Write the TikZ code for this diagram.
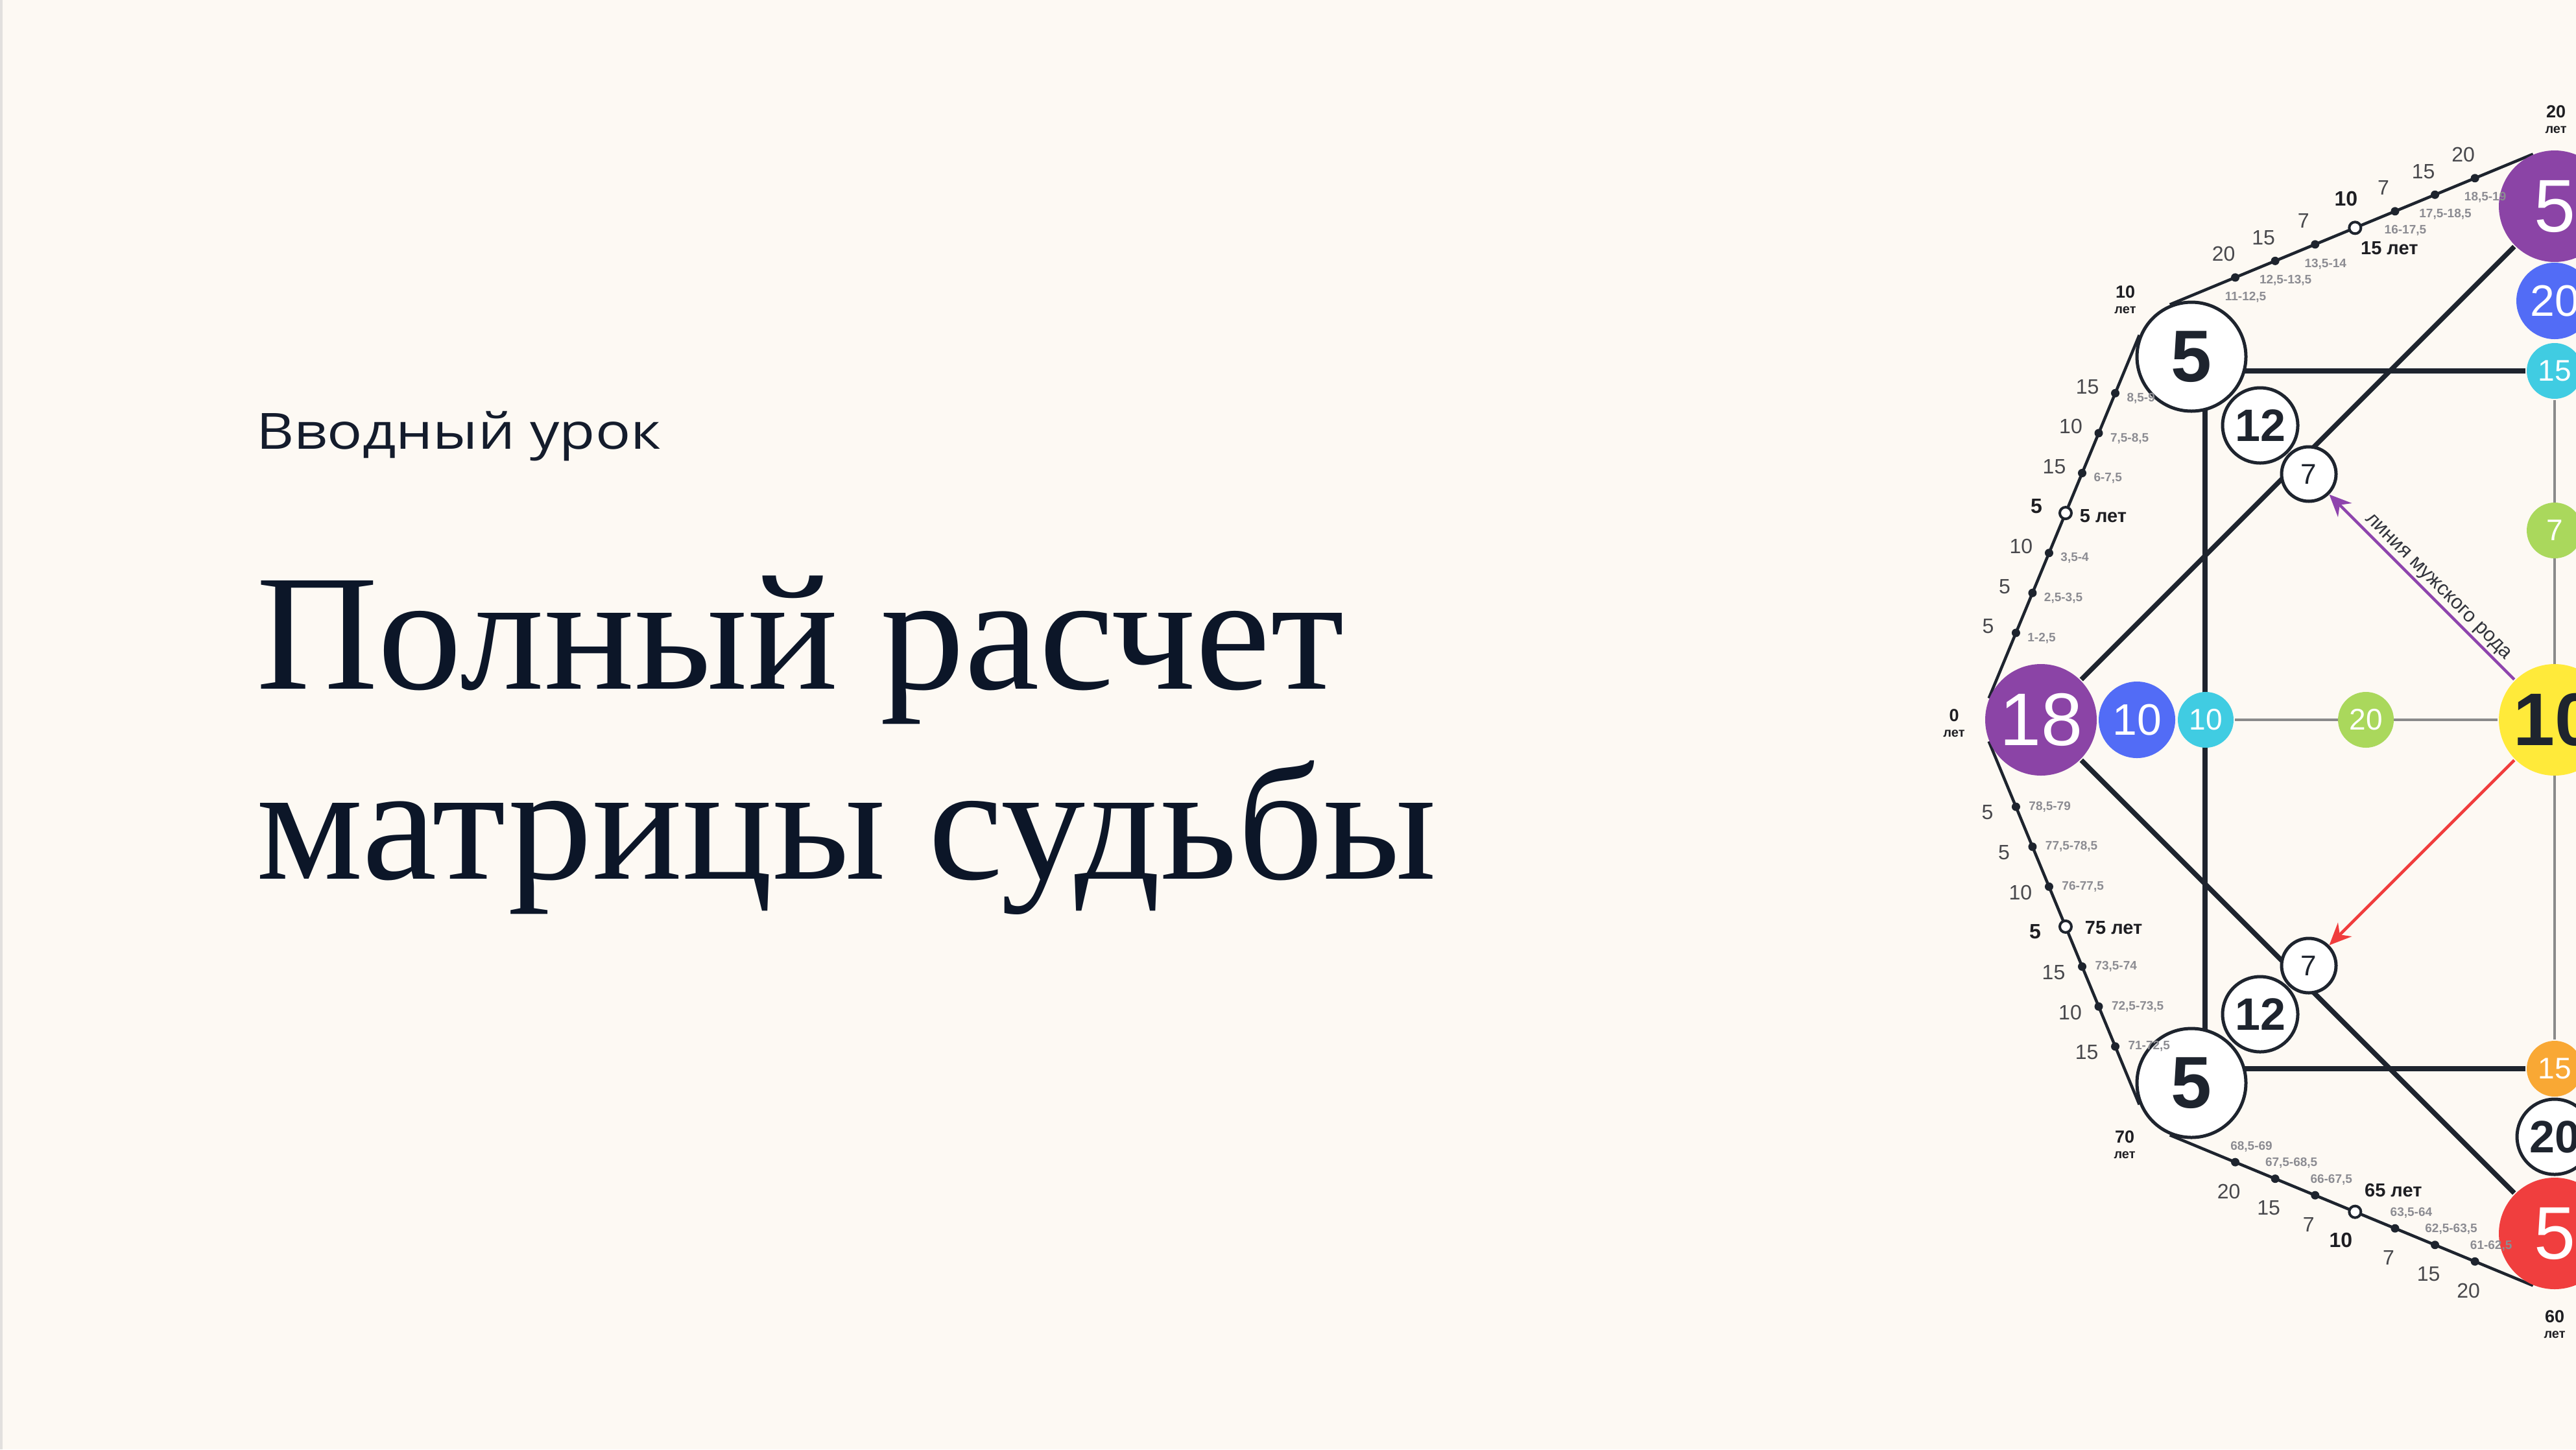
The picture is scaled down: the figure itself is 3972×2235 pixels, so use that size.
\documentclass[tikz,border=0pt]{standalone}
\usepackage{fontspec}
\setmainfont{Liberation Sans}
\newfontfamily\titlefont[FakeStretch=1.02]{Liberation Serif}
\newfontfamily\leadfont[FakeStretch=1.17]{Open Sans}
\usetikzlibrary{arrows.meta}
\usetikzlibrary{calc}
\usetikzlibrary{positioning}

\pgfdeclarelayer{paper}
\pgfdeclarelayer{bg}
\pgfsetlayers{paper,bg,main}

\tikzset{
  paper/.style={fill={rgb, 255:red, 253; green, 249; blue, 243 }},
  disc/.style={circle, inner sep=0pt, text=white},
  bigdisc/.style={disc, minimum size=17.2pt, font=\fontsize{11.5}{11.5}\selectfont},
  middisc/.style={disc, minimum size=11.8pt, font=\fontsize{6.8}{6.8}\selectfont},
  smalldisc/.style={disc, minimum size=8.6pt, font=\fontsize{4.6}{4.6}\selectfont},
  ring/.style={circle, inner sep=0pt, fill=white, line width=0.5pt, draw={rgb, 255:red, 30; green, 36; blue, 46 }, text={rgb, 255:red, 30; green, 36; blue, 46 }},
  bigring/.style={ring, minimum size=16.8pt, font=\fontsize{11.3}{11.3}\selectfont\bfseries},
  midring/.style={ring, minimum size=11.6pt, font=\fontsize{7}{7}\selectfont\bfseries},
  smallring/.style={ring, minimum size=8.4pt, font=\fontsize{4.4}{4.4}\selectfont},
  frame/.style={line width=0.75pt, draw={rgb, 255:red, 30; green, 36; blue, 46 }},
  guide/.style={line width=0.4pt, draw={rgb, 255:red, 138; green, 138; blue, 138 }},
  ageline/.style={line width=0.45pt, draw={rgb, 255:red, 30; green, 36; blue, 46 }},
  agedot/.style={circle, inner sep=0pt, minimum size=1.3pt, fill={rgb, 255:red, 30; green, 36; blue, 46 }},
  agering/.style={circle, inner sep=0pt, minimum size=1.8pt, line width=0.4pt, fill=white, draw={rgb, 255:red, 30; green, 36; blue, 46 }},
  agenum/.style={inner sep=0pt, font=\fontsize{3.2}{3.2}\selectfont, text={rgb, 255:red, 72; green, 72; blue, 76 }},
  agebold/.style={inner sep=0pt, font=\fontsize{3.2}{3.2}\selectfont\bfseries, text={rgb, 255:red, 30; green, 30; blue, 34 }},
  agerange/.style={inner sep=0pt, font=\fontsize{1.9}{1.9}\selectfont\bfseries, text={rgb, 255:red, 140; green, 140; blue, 146 }},
  ageyears/.style={inner sep=0pt, font=\fontsize{2.9}{2.9}\selectfont\bfseries, text={rgb, 255:red, 30; green, 30; blue, 34 }},
  cornernum/.style={inner sep=0pt, font=\fontsize{2.7}{2.7}\selectfont\bfseries, text={rgb, 255:red, 30; green, 30; blue, 34 }},
  cornerword/.style={inner sep=0pt, font=\fontsize{2}{2}\selectfont\bfseries, text={rgb, 255:red, 30; green, 30; blue, 34 }},
}

\begin{document}
\begin{tikzpicture}[x=0.1pt,y=0.1pt,yscale=-1,xscale=1]
\useasboundingbox (0,0) rectangle (3972,2235);

%Shape: Rectangle [background]
\begin{pgfonlayer}{paper}
\fill[paper] (0,0) rectangle (3972,2235);
\fill[fill={rgb, 255:red, 226; green, 224; blue, 222 }] (0,0) rectangle (4,2235);
\end{pgfonlayer}

% Text Node
\node[anchor=base west, inner sep=0pt, font=\leadfont\fontsize{7.7}{9}\selectfont, text={rgb, 255:red, 20; green, 28; blue, 44 }] (lead) at (393,692) {Вводный урок};
% Text Node
\node[anchor=base west, inner sep=0pt, font=\titlefont\fontsize{25.5}{29}\selectfont, text={rgb, 255:red, 12; green, 22; blue, 40 }] (title1) at (393,1062) {Полный расчет};
% Text Node
\node[anchor=base west, inner sep=0pt, font=\titlefont\fontsize{25.5}{29}\selectfont, text={rgb, 255:red, 12; green, 22; blue, 40 }] (title2) at (393,1355) {матрицы судьбы};

%Shape: Circle [outer points]
\node[bigdisc, fill={rgb, 255:red, 139; green, 68; blue, 166 }] (V18) at (3147,1110) {18};
\node[bigring] (NW5) at (3379,550) {5};
\node[bigdisc, fill={rgb, 255:red, 139; green, 68; blue, 166 }] (P5) at (3939,318) {5};
\node[bigring] (SW5) at (3379,1670) {5};
\node[bigdisc, fill={rgb, 255:red, 240; green, 62; blue, 62 }] (R5) at (3939,1902) {5};
\node[bigdisc, fill={rgb, 255:red, 255; green, 234; blue, 58 }, text={rgb, 255:red, 30; green, 36; blue, 46 }, font=\fontsize{11.5}{11.5}\selectfont\bfseries] (Y10) at (3939,1110) {10};

%Shape: Circle [middle row]
\node[middisc, fill={rgb, 255:red, 82; green, 108; blue, 246 }] (B10) at (3295,1110) {10};
\node[smalldisc, fill={rgb, 255:red, 64; green, 204; blue, 226 }] (C10) at (3401,1110) {10};
\node[smalldisc, fill={rgb, 255:red, 170; green, 216; blue, 92 }] (G20) at (3648,1110) {20};

%Shape: Circle [middle column]
\node[middisc, fill={rgb, 255:red, 82; green, 108; blue, 246 }] (B20) at (3939,464) {20};
\node[smalldisc, fill={rgb, 255:red, 64; green, 204; blue, 226 }] (C15) at (3939,572) {15};
\node[smalldisc, fill={rgb, 255:red, 170; green, 216; blue, 92 }] (G7) at (3939,818) {7};
\node[smalldisc, fill={rgb, 255:red, 249; green, 168; blue, 52 }] (O15) at (3939,1648) {15};
\node[midring] (W20) at (3939,1753) {20};

%Shape: Circle [diagonals]
\node[midring] (T12) at (3485,656) {12};
\node[smallring] (T7) at (3560,731) {7};
\node[midring] (B12) at (3485,1564) {12};
\node[smallring] (B7) at (3560,1489) {7};

\coordinate (sqNW) at (3400,572);
\coordinate (sqSW) at (3400,1648);

% age line end points
\coordinate (a1) at ($(V18.center)!8.7pt!-90:(NW5.center)$);
\coordinate (b1) at ($(NW5.center)!8.7pt!90:(V18.center)$);
\coordinate (a2) at ($(NW5.center)!8.7pt!-90:(P5.center)$);
\coordinate (b2) at ($(P5.center)!8.7pt!90:(NW5.center)$);
\coordinate (a3) at ($(V18.center)!8.7pt!90:(SW5.center)$);
\coordinate (b3) at ($(SW5.center)!8.7pt!-90:(V18.center)$);
\coordinate (a4) at ($(SW5.center)!8.7pt!90:(R5.center)$);
\coordinate (b4) at ($(R5.center)!8.7pt!-90:(SW5.center)$);

%Straight Lines
\begin{pgfonlayer}{bg}
\draw[guide] (C10) -- (Y10);
\draw[guide] (C15) -- (O15);
\draw[frame] (V18) -- (P5);
\draw[frame] (V18) -- (R5);
\draw[frame] (sqNW) -- (sqSW);
\draw[frame] (sqNW) -- (C15);
\draw[frame] (sqSW) -- (O15);
\draw[ageline] (a1) -- (b1) (a2) -- (b2) (a3) -- (b3) (a4) -- (b4);
\end{pgfonlayer}

%Straight Lines [arrows]
\draw[line width=0.45pt, draw={rgb, 255:red, 142; green, 68; blue, 173 }, -{Stealth[length=3.4pt,width=3pt]}] (Y10) -- (T7);
\draw[line width=0.45pt, draw={rgb, 255:red, 240; green, 60; blue, 60 }, -{Stealth[length=3.4pt,width=3pt]}] (Y10) -- (B7);
% Text Node
\node[rotate=-45, inner sep=0pt, font=\fontsize{3.1}{3.1}\selectfont, text={rgb, 255:red, 50; green, 52; blue, 60 }] (male) at ($($(Y10)!0.5!(T7)$)+(9,-15)$) {линия мужского рода};

% age dots 0-10
\foreach \tval/\nval/\rval in {0.18/5/{1-2,5},0.29/5/{2,5-3,5},0.40/10/{3,5-4},0.62/15/{6-7,5},0.73/10/{7,5-8,5},0.84/15/{8,5-9}}{
  \path (a1) -- (b1) node[agedot, pos=\tval] (d) {};
  \node[agenum] at ($(d)+(-43,-10)$) {\nval};
  \node[agerange, anchor=west] at ($(d)+(16,8)$) {\rval};
}
\path (a1) -- (b1) node[agering, pos=0.51] (o5) {};
\node[agebold] at ($(o5)+(-45,-10)$) {5};
\node[ageyears, anchor=west] at ($(o5)+(20,5)$) {5 лет};

% age dots 10-20
\foreach \tval/\nval/\rval in {0.18/20/{11-12,5},0.29/15/{12,5-13,5},0.40/7/{13,5-14},0.62/7/{16-17,5},0.73/15/{17,5-18,5},0.84/20/{18,5-19}}{
  \path (a2) -- (b2) node[agedot, pos=\tval] (d) {};
  \node[agenum] at ($(d)+(-18,-36)$) {\nval};
  \node[agerange] at ($(d)+(16,30)$) {\rval};
}
\path (a2) -- (b2) node[agering, pos=0.51] (o15) {};
\node[agebold] at ($(o15)+(-14,-45)$) {10};
\node[ageyears] at ($(o15)+(53,31)$) {15 лет};

% age dots 70-80
\foreach \tval/\nval/\rval in {0.18/5/{78,5-79},0.29/5/{77,5-78,5},0.40/10/{76-77,5},0.62/15/{73,5-74},0.73/10/{72,5-73,5},0.84/15/{71-72,5}}{
  \path (a3) -- (b3) node[agedot, pos=\tval] (d) {};
  \node[agenum] at ($(d)+(-44,9)$) {\nval};
  \node[agerange, anchor=west] at ($(d)+(18,0)$) {\rval};
}
\path (a3) -- (b3) node[agering, pos=0.51] (o75) {};
\node[agebold] at ($(o75)+(-47,8)$) {5};
\node[ageyears, anchor=west] at ($(o75)+(28,2)$) {75 лет};

% age dots 60-70
\foreach \tval/\nval/\rval in {0.18/20/{68,5-69},0.29/15/{67,5-68,5},0.40/7/{66-67,5},0.62/7/{63,5-64},0.73/15/{62,5-63,5},0.84/20/{61-62,5}}{
  \path (a4) -- (b4) node[agedot, pos=\tval] (d) {};
  \node[agenum] at ($(d)+(-10,45)$) {\nval};
  \node[agerange] at ($(d)+(25,-24)$) {\rval};
}
\path (a4) -- (b4) node[agering, pos=0.51] (o65) {};
\node[agebold] at ($(o65)+(-22,44)$) {10};
\node[ageyears] at ($(o65)+(59,-33)$) {65 лет};

% Text Node [corner ages]
\node[cornernum] (c0) at (3013,1103) {0};
\node[cornerword, below=0.9pt of c0] (c0w) {лет};
\node[cornernum] (c10) at (3277,450) {10};
\node[cornerword, below=0.9pt of c10] (c10w) {лет};
\node[cornernum] (c20) at (3941,172) {20};
\node[cornerword, below=0.9pt of c20] (c20w) {лет};
\node[cornernum] (c70) at (3276,1753) {70};
\node[cornerword, below=0.9pt of c70] (c70w) {лет};
\node[cornernum] (c60) at (3939,2030) {60};
\node[cornerword, below=0.9pt of c60] (c60w) {лет};

\end{tikzpicture}
\end{document}
